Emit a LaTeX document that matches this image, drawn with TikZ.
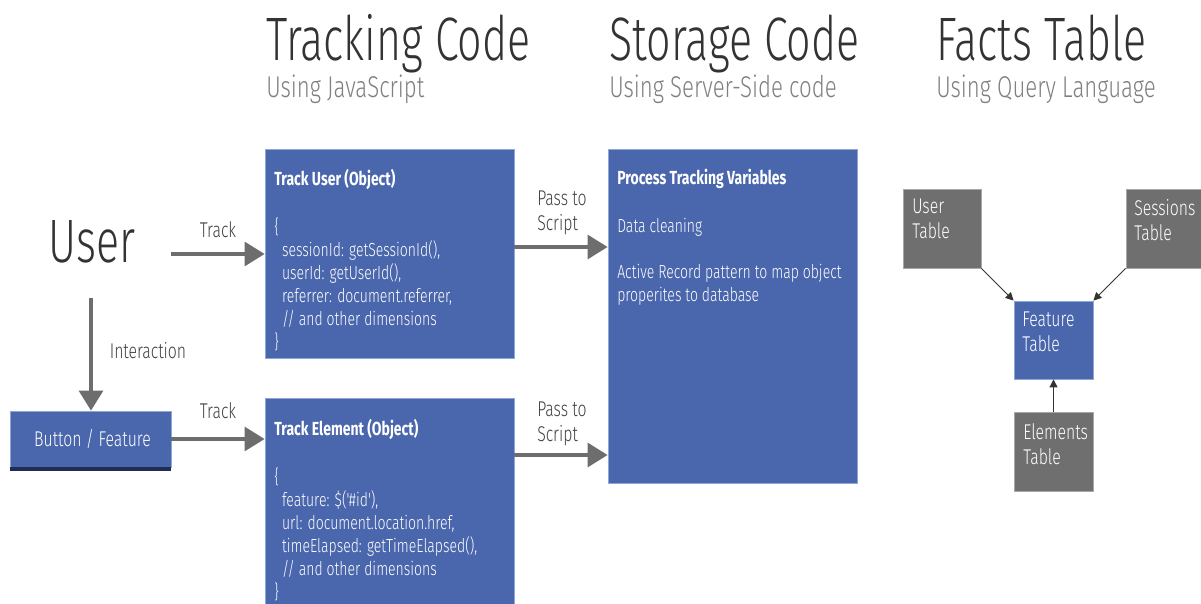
\documentclass[tikz,border=0pt]{standalone}
\usepackage{fontspec}
\setmainfont{Fira Sans}[FakeStretch=0.74]
\newfontfamily\lightfont{Fira Sans Light}[FakeStretch=0.74]
\newfontfamily\headfont{Fira Sans Light}[FakeStretch=0.70]
\usetikzlibrary{arrows.meta,fit}

\definecolor{boxblue}{HTML}{4A66AC}
\definecolor{boxedge}{HTML}{8EA6D8}
\definecolor{bandnavy}{HTML}{1F2D52}
\definecolor{tablegray}{HTML}{6F6F6F}
\definecolor{tableedge}{HTML}{A8A8A8}
\definecolor{arrowgray}{HTML}{6D6D6D}
\definecolor{titleink}{HTML}{333333}
\definecolor{subink}{HTML}{808080}
\definecolor{labelink}{HTML}{404040}

\tikzset{
  bluebox/.style={draw=boxedge, line width=0.6pt, fill=boxblue, inner sep=0pt},
  graybox/.style={draw=tableedge, line width=0.6pt, fill=tablegray, inner sep=0pt},
  flow/.style={draw=arrowgray, line width=2.3pt, -{Triangle[length=15pt,width=18pt]}},
  tablelink/.style={draw=titleink, line width=0.7pt, -{Triangle[length=6pt,width=6pt]}},
  heading/.style={anchor=base west, inner sep=0pt, text=titleink, font=\headfont\fontsize{46}{50}\selectfont},
  subheading/.style={anchor=base west, inner sep=0pt, text=subink, font=\lightfont\fontsize{22.5}{26}\selectfont},
  tag/.style={inner sep=0pt, text=labelink, font=\lightfont\fontsize{16}{18.75}\selectfont},
  boxtext/.style={anchor=north west, inner sep=0pt, text=white, align=left,
    font=\lightfont\fontsize{14.2}{17.25}\selectfont},
  tabletext/.style={anchor=north west, inner sep=0pt, text=white, align=left,
    font=\lightfont\fontsize{16}{18.75}\selectfont},
}

\begin{document}
\begin{tikzpicture}[x=0.75pt, y=-0.75pt]
\useasboundingbox (0,0) rectangle (1201,603);

% column headings
\node[heading] (h1) at (266,60) {Tracking Code};
\node[subheading] (s1) at (266,97) {Using JavaScript};
\node[heading] (h2) at (609,60) {Storage Code};
\node[subheading] (s2) at (609,97) {Using Server-Side code};
\node[heading] (h3) at (936,60) {Facts Table};
\node[subheading] (s3) at (936,97) {Using Query Language};

% the user and the element they interact with
\node[anchor=base, inner sep=0pt, text=titleink, font=\headfont\fontsize{46}{50}\selectfont] (user) at (92,262) {User};
\node[bluebox, fit={(10,411) (171,467)}] (button) {};
\fill[bandnavy] (button.south west) rectangle ([yshift=-3pt]button.south east);
\node[tag, text=white] (buttontext) at ([xshift=1.5pt]button.center) {Button / Feature};

% tracking objects
\node[bluebox, fit={(265,149) (514,358)}] (trackuser) {};
\node[boxtext] (trackusertext) at (274,169) {%
  {\normalfont\bfseries Track User (Object)}\\[19pt]
  \{\\
  \ \ sessionId: getSessionId(),\\
  \ \ userId: getUserId(),\\
  \ \ referrer: document.referrer,\\
  \ \ // and other dimensions\\
  \}};

\node[bluebox, fit={(265,398) (514,612)}] (trackelement) {};
\node[boxtext] (trackelementtext) at (274,419) {%
  {\normalfont\bfseries Track Element (Object)}\\[19pt]
  \{\\
  \ \ feature: \$('\#id'),\\
  \ \ url: document.location.href,\\
  \ \ timeElapsed: getTimeElapsed(),\\
  \ \ // and other dimensions\\
  \}};

% server side processing
\node[bluebox, fit={(608,149) (857,483)}] (process) {};
\node[boxtext] (processtext) at (617,169) {%
  {\normalfont\bfseries Process Tracking Variables}\\[19pt]
  Data cleaning\\[17.25pt]
  Active Record pattern to map object\\
  properites to database};

% facts tables
\node[graybox, fit={(903,189) (981,268)}] (usertable) {};
\node[tabletext] (usertabletext) at (912,199) {User\\Table};
\node[graybox, fit={(1126,189) (1206,268)}] (sessionstable) {};
\node[tabletext] (sessionstabletext) at (1134,199) {Sessions\\Table};
\node[bluebox, fit={(1014,301) (1093,379)}] (featuretable) {};
\node[tabletext] (featuretabletext) at (1022,312) {Feature\\Table};
\node[graybox, fit={(1014,412) (1093,491)}] (elementstable) {};
\node[tabletext] (elementstabletext) at (1023,423) {Elements\\Table};

% connectors
\coordinate (usertrack) at (171,254);
\coordinate (userfoot) at (91,298);
\coordinate (passA) at (514,247);
\coordinate (passB) at (514,455);

\draw[flow] (usertrack) -- (usertrack -| trackuser.west);
\draw[flow] (userfoot) -- (userfoot |- button.north);
\draw[flow] (button.east) -- (button.east -| trackelement.west);
\draw[flow] (passA) -- (passA -| process.west);
\draw[flow] (passB) -- (passB -| process.west);

\draw[tablelink] (usertable.south east) -- (featuretable.north west);
\draw[tablelink] (sessionstable.south west) -- (featuretable.north east);
\draw[tablelink] (elementstable.north) -- (featuretable.south);

% connector labels
\node[tag, anchor=base] (tracklabelA) at (218,237) {Track};
\node[tag, anchor=base] (tracklabelB) at (218,418) {Track};
\node[tag, anchor=base] (interactionlabel) at (148,358) {Interaction};
\node[tag, anchor=base west] (passlabelA) at (537,205) {Pass to};
\node[tag, anchor=base west] (passlabelA2) at (537,230) {Script};
\node[tag, anchor=base west] (passlabelB) at (537,416) {Pass to};
\node[tag, anchor=base west] (passlabelB2) at (537,441) {Script};
\end{tikzpicture}
\end{document}
